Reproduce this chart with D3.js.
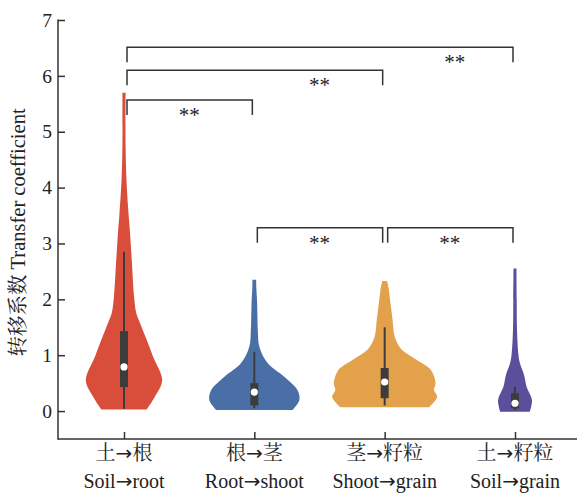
<!DOCTYPE html>
<html><head><meta charset="utf-8">
<script src="https://cdn.jsdelivr.net/npm/d3@7"></script>
<style>body{margin:0;background:#fff}svg{display:block}</style>
</head><body><svg id="c" width="577" height="493"></svg>
<script>
const categoriesZh = ["土→根","根→茎","茎→籽粒","土→籽粒"];
const categoriesEn = ["Soil→root","Root→shoot","Shoot→grain","Soil→grain"];
const colors = ["#d94e3b","#4a6fa7","#e4a14c","#5b4e9b"];
const yTicks = [0,1,2,3,4,5,6,7];
// violin profiles: value and relative density (half-width, max = 1)
const redValues = [0.03,0.25,0.55,0.97,1.27,1.58,1.76,2.05,2.65,3.24,3.54,4.13,4.73,5.7];
const redDensity = [0.43,0.58,0.72,0.55,0.43,0.30,0.23,0.19,0.15,0.11,0.085,0.047,0.03,0.03];
const blueValues = [0.02,0.2,0.38,0.61,0.86,1.15,1.45,1.76,2.0,2.2,2.35];
const blueDensity = [0.72,0.85,0.81,0.57,0.25,0.095,0.066,0.057,0.05,0.038,0.035];
const orangeValues = [0.07,0.25,0.38,0.5,0.74,0.92,1.1,1.33,1.63,1.93,2.2,2.33];
const orangeDensity = [0.84,0.99,0.93,0.96,0.87,0.60,0.32,0.19,0.15,0.11,0.075,0.045];
const purpleValues = [-0.01,0.2,0.43,0.65,0.85,1.0,1.45,2.0,2.55];
const purpleDensity = [0.28,0.32,0.22,0.17,0.095,0.066,0.038,0.032,0.028];
// box stats: [whiskerLow, q1, median, q3, whiskerHigh]
const boxStats = [
  [0.04,0.43,0.79,1.43,2.85],
  [0.05,0.10,0.34,0.50,1.06],
  [0.10,0.23,0.52,0.77,1.50],
  [0.02,0.05,0.14,0.32,0.43]
];
// significance brackets
const sigFrom = [0,0,0,1,2];
const sigTo = [3,2,1,2,3];
const sigLevel = [6.51,6.10,5.57,3.28,3.28];
const sigLabel = ["**","**","**","**","**"];

const profiles = [
  [redValues, redDensity],[blueValues, blueDensity],
  [orangeValues, orangeDensity],[purpleValues, purpleDensity]
];

const svg = d3.select("#c");
const serif = "'Liberation Serif','Times New Roman','Noto Serif CJK SC','Noto Sans CJK SC',serif";
const arrowFont = "'DejaVu Sans',sans-serif";
const M = {left: 58, right: 577, top: 20, bottom: 439};
const x = d3.scalePoint().domain(d3.range(4)).range([124, 515]);
const y = d3.scaleLinear().domain([-0.5, 7]).range([M.bottom, M.top]);
const w = d3.scaleLinear().domain([0, 1]).range([0, 53]);
const axisColor = "#333";

// violins
profiles.forEach((p, i) => {
  const pts = p[0].map((v, k) => ({v, d: p[1][k]}));
  const area = d3.area()
    .y(d => y(d.v))
    .x0(d => x(i) - w(d.d))
    .x1(d => x(i) + w(d.d))
    .curve(d3.curveCatmullRom.alpha(0.5));
  svg.append("path").attr("d", area(pts)).attr("fill", colors[i]);
  const s = boxStats[i];
  svg.append("line").attr("x1", x(i)).attr("x2", x(i))
    .attr("y1", y(s[0])).attr("y2", y(s[4]))
    .attr("stroke", "#3c3c3c").attr("stroke-width", 2);
  svg.append("rect").attr("x", x(i) - 4).attr("width", 8)
    .attr("y", y(s[3])).attr("height", y(s[1]) - y(s[3]))
    .attr("fill", "#3c3c3c");
  svg.append("circle").attr("cx", x(i)).attr("cy", y(s[2])).attr("r", 3.6)
    .attr("fill", "#fff");
});

// y axis
const yAxis = d3.axisLeft(y).tickValues(yTicks).tickSize(-7).tickPadding(8)
  .tickFormat(d3.format("d"));
const gy = svg.append("g").attr("transform", `translate(${M.left},0)`).call(yAxis);
gy.select(".domain").remove();
gy.selectAll(".tick line").attr("stroke", axisColor).attr("stroke-width", 1.5);
gy.selectAll(".tick text").attr("font-family", serif).attr("font-size", 19.5)
  .attr("fill", "#222").attr("x", -6);
svg.append("line").attr("x1", M.left).attr("x2", M.left).attr("y1", M.top - 0.5).attr("y2", M.bottom + 0.75)
  .attr("stroke", axisColor).attr("stroke-width", 1.5);

// x axis
const xAxis = d3.axisBottom(x).tickSize(-7).tickFormat("");
const gx = svg.append("g").attr("transform", `translate(0,${M.bottom})`).call(xAxis);
gx.select(".domain").remove();
gx.selectAll(".tick line").attr("stroke", axisColor).attr("stroke-width", 1.5);
svg.append("line").attr("x1", M.left).attr("x2", M.right).attr("y1", M.bottom).attr("y2", M.bottom)
  .attr("stroke", axisColor).attr("stroke-width", 1.5);

function arrowText(sel, str) {
  const parts = str.split("→");
  parts.forEach((p, k) => {
    if (k > 0) sel.append("tspan").attr("font-family", arrowFont).text("→");
    sel.append("tspan").text(p);
  });
}
d3.range(4).forEach(i => {
  const t1 = svg.append("text").attr("x", x(i)).attr("y", 460).attr("text-anchor", "middle")
    .attr("font-family", serif).attr("font-size", 20).attr("fill", "#222");
  arrowText(t1, categoriesZh[i]);
  const t2 = svg.append("text").attr("x", x(i)).attr("y", 487.5).attr("text-anchor", "middle")
    .attr("font-family", serif).attr("font-size", 20).attr("fill", "#222");
  arrowText(t2, categoriesEn[i]);
});

// y label
svg.append("text").attr("transform", `translate(25,${232.5}) rotate(-90)`)
  .attr("text-anchor", "middle").attr("font-family", serif).attr("font-size", 20.5)
  .attr("fill", "#222").text("转移系数 Transfer coefficient");

// significance brackets
sigFrom.forEach((a, k) => {
  const b = sigTo[k];
  const x1 = x(a) + 3, x2 = x(b) - 2, yy = y(sigLevel[k]);
  const leg = 15;
  svg.append("path")
    .attr("d", `M${x1},${yy + leg}V${yy}H${x2}V${yy + leg}`)
    .attr("fill", "none").attr("stroke", axisColor).attr("stroke-width", 1.5);
  const tx = (x(b - 1) + x(b)) / 2 + (b - a === 3 ? 5 : 0);
  svg.append("text").attr("x", tx).attr("y", yy + 22).attr("text-anchor", "middle")
    .attr("font-family", serif).attr("font-size", 21).attr("fill", "#222").text(sigLabel[k]);
});
</script></body></html>
